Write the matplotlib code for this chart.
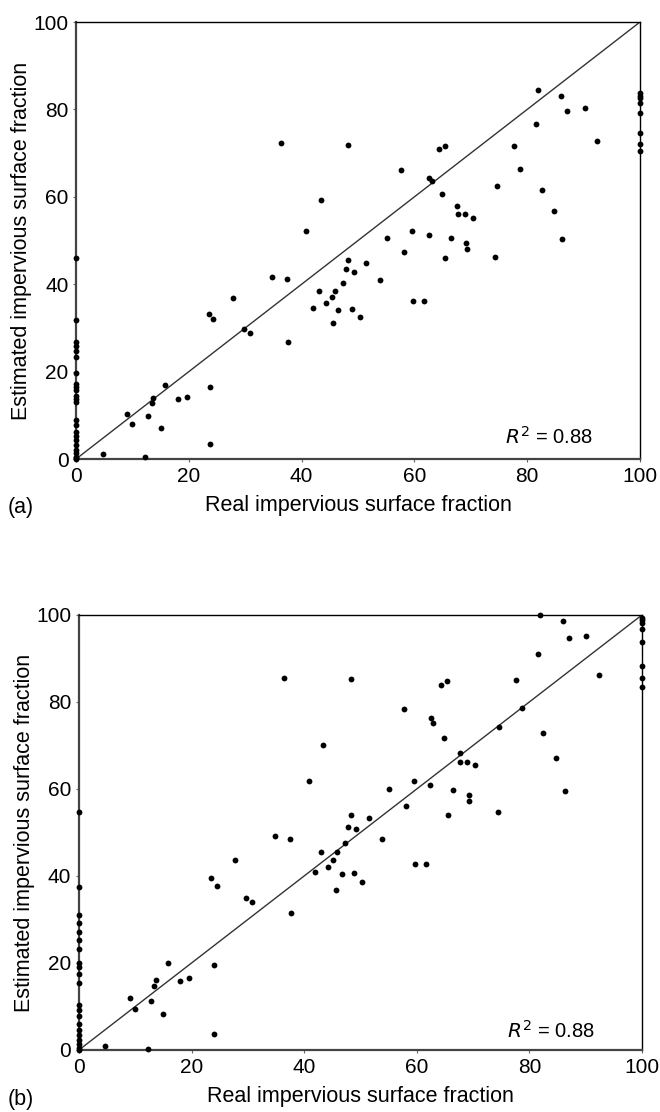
import matplotlib
matplotlib.use("Agg")
import matplotlib.pyplot as plt
import numpy as np

plt.rcParams['font.family'] = ['Liberation Sans', 'DejaVu Sans']

# panel (a) - scattered points (real, estimated)
real_a = [36.3, 43.4, 40.8, 34.8, 37.4, 43.0, 27.9, 82.0, 86.0, 87.1, 90.2, 81.6, 92.4,
          48.3, 64.4, 65.4, 77.7, 57.7, 62.5, 63.1, 78.8, 74.7, 82.6, 64.9, 84.8, 67.6,
          67.8, 68.9, 70.4, 86.2, 59.5, 55.2, 62.5, 66.5, 58.1, 69.1, 69.4, 65.5, 74.3,
          48.3, 51.5, 47.8, 49.2, 53.9, 47.3, 45.9, 45.3, 59.7, 61.7, 46.5, 48.9, 50.4,
          45.6, 23.5, 24.3, 29.7, 30.9, 37.6, 42.1, 44.4, 15.8, 13.7, 13.4, 18.0, 19.6,
          23.8, 9.1, 10.0, 12.8, 15.0, 23.8, 4.7, 12.2]
est_a = [72.3, 59.2, 52.2, 41.7, 41.3, 38.5, 36.8, 84.4, 83.0, 79.6, 80.4, 76.7, 72.8,
         71.8, 70.9, 71.7, 71.6, 66.2, 64.4, 63.7, 66.4, 62.5, 61.6, 60.6, 56.7, 57.8,
         56.1, 56.1, 55.1, 50.4, 52.2, 50.6, 51.3, 50.6, 47.4, 49.4, 48.1, 45.9, 46.3,
         45.5, 44.9, 43.4, 42.9, 41.0, 40.2, 38.5, 37.1, 36.2, 36.2, 34.1, 34.3, 32.6,
         31.2, 33.3, 32.0, 29.7, 28.9, 26.8, 34.5, 35.6, 16.9, 14.0, 12.9, 13.7, 14.1,
         16.5, 10.3, 8.0, 9.8, 7.2, 3.4, 1.1, 0.5]
# points on the x = 0 and x = 100 edges
zero_a = [45.9, 31.8, 26.7, 25.9, 24.7, 23.3, 19.7, 17.2, 16.5, 15.9, 14.4, 13.7, 13.0,
          8.9, 7.9, 6.2, 5.3, 4.3, 3.2, 2.1, 1.3, 0.5, 0.2, 0.0]
full_a = [83.7, 83.1, 82.5, 81.5, 79.1, 74.7, 72.2, 70.5]

# panel (b)
real_b = [36.4, 43.3, 40.9, 34.8, 37.5, 43.0, 27.7, 81.9, 85.9, 87.0, 90.1, 81.5, 92.4,
          48.3, 64.3, 65.4, 77.7, 57.8, 78.7, 62.5, 62.8, 74.6, 82.5, 64.9, 84.7, 67.6,
          67.7, 68.9, 70.3, 86.3, 59.5, 55.1, 62.4, 66.5, 58.1, 69.2, 69.3, 65.5, 74.4,
          48.3, 51.6, 47.7, 49.2, 53.9, 47.2, 45.8, 59.7, 61.6, 46.7, 48.8, 50.3, 45.6,
          45.2, 23.4, 24.5, 29.7, 30.8, 37.7, 41.9, 44.3, 15.8, 13.7, 13.3, 17.9, 19.5,
          23.9, 9.1, 9.9, 12.8, 15.0, 23.9, 4.6, 12.2]
est_b = [85.6, 70.0, 61.8, 49.2, 48.6, 45.4, 43.6, 100.0, 98.6, 94.6, 95.2, 91.0, 86.2,
         85.3, 83.9, 84.9, 85.1, 78.4, 78.7, 76.3, 75.1, 74.3, 72.9, 71.8, 67.0, 68.3,
         66.3, 66.3, 65.4, 59.5, 61.8, 60.1, 60.8, 59.8, 56.1, 58.5, 57.2, 54.0, 54.6,
         53.9, 53.3, 51.3, 50.8, 48.5, 47.5, 45.4, 42.7, 42.7, 40.4, 40.6, 38.5, 36.8,
         43.7, 39.6, 37.7, 35.0, 34.0, 31.4, 40.8, 42.0, 19.9, 16.1, 14.8, 15.9, 16.6,
         19.5, 12.0, 9.4, 11.3, 8.2, 3.7, 1.0, 0.2]
zero_b = [54.6, 37.4, 31.0, 29.1, 27.2, 25.3, 23.2, 19.9, 19.1, 17.4, 15.5, 10.3, 9.2,
          7.7, 6.0, 4.6, 3.4, 2.3, 1.3, 0.4, 0.0]
full_b = [99.4, 98.9, 98.1, 96.7, 93.7, 88.3, 85.4, 83.4]

r2_text = "$R^2$ = 0.88"
ticks = [0, 20, 40, 60, 80, 100]

fig = plt.figure(figsize=(6.6, 11.12), dpi=100)
ax_a = fig.add_axes([0.1152, 0.5872, 0.8545, 0.3930])
ax_b = fig.add_axes([0.1197, 0.0558, 0.8530, 0.3912])


def draw_panel(ax, xs, ys, zeros, fulls, r2_pos):
    ax.plot([0, 100], [0, 100], color="#333333", lw=1.0, zorder=2)
    allx = list(xs) + [0] * len(zeros) + [100] * len(fulls)
    ally = list(ys) + list(zeros) + list(fulls)
    ax.plot(allx, ally, linestyle="none", marker="o", ms=4.2, color="black",
            markeredgewidth=0, clip_on=False, zorder=3)
    ax.set_xlim(0, 100)
    ax.set_ylim(0, 100)
    ax.set_xticks(ticks)
    ax.set_yticks(ticks)
    ax.tick_params(direction="out", length=2.5, width=0.8, labelsize=15, pad=3,
                   color="#666666")
    for s in ["left", "bottom"]:
        ax.spines[s].set_linewidth(1.6)
        ax.spines[s].set_color("#444444")
    for s in ["top", "right"]:
        ax.spines[s].set_linewidth(1.0)
        ax.spines[s].set_color("black")
    ax.set_xlabel("Real impervious surface fraction", fontsize=15.5, labelpad=7)
    ax.set_ylabel("Estimated impervious surface fraction", fontsize=15.5, labelpad=1)
    ax.text(r2_pos[0], r2_pos[1], r2_text, transform=ax.transAxes, fontsize=14.5,
            ha="left", va="center")


draw_panel(ax_a, real_a, est_a, zero_a, full_a, (0.761, 0.05))
draw_panel(ax_b, real_b, est_b, zero_b, full_b, (0.760, 0.044))

fig.text(0.012, 1 - 508 / 1112, "(a)", fontsize=15.5, va="center", ha="left")
fig.text(0.012, 1 - 1100 / 1112, "(b)", fontsize=15.5, va="center", ha="left")

fig.savefig("out.png", dpi=100)
